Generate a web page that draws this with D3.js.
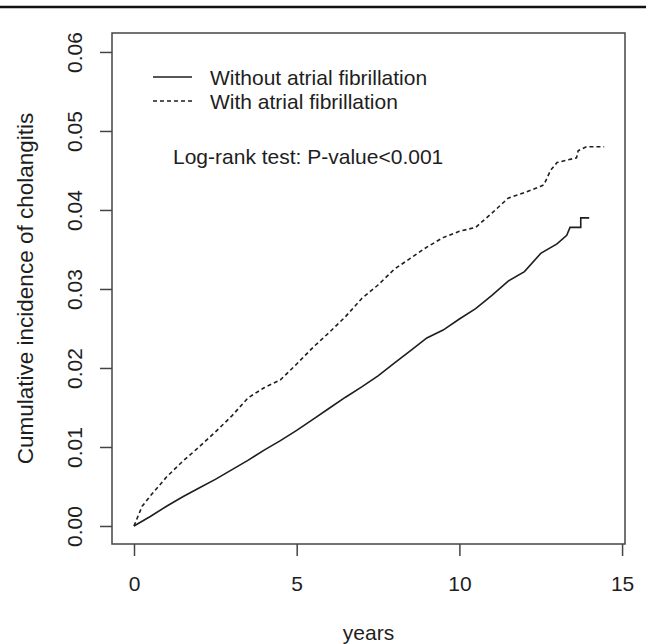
<!DOCTYPE html>
<html>
<head>
<meta charset="utf-8">
<script src="https://cdn.jsdelivr.net/npm/d3@7"></script>
<style>
  body { margin: 0; background: #fff; }
  svg { display: block; font-family: "Liberation Sans", Arial, sans-serif; }
</style>
</head>
<body>
<svg id="chart" width="646" height="644"></svg>
<script>
// ---- data (years, cumulative incidence) ----
const withoutAF_t = [0, 0.5, 1, 1.5, 2, 2.5, 3, 3.5, 4, 4.5, 5, 5.5, 6, 6.5, 7, 7.5, 8, 8.5, 9, 9.5, 10, 10.5, 11, 11.5, 12, 12.5, 13, 13.3, 13.4, 13.73, 13.73, 13.99];
const withoutAF_v = [0, 0.0012, 0.0025, 0.0037, 0.0048, 0.0059, 0.0071, 0.0083, 0.0096, 0.0108, 0.0121, 0.0135, 0.0149, 0.0163, 0.0176, 0.0190, 0.0206, 0.0222, 0.0238, 0.0248, 0.0262, 0.0275, 0.0292, 0.0310, 0.0322, 0.0345, 0.0357, 0.0368, 0.0378, 0.0378, 0.0390, 0.0390];

const withAF_t = [0, 0.25, 0.5, 1, 1.5, 2, 2.5, 3, 3.5, 4, 4.5, 5, 5.5, 6, 6.5, 7, 7.5, 8, 8.5, 9, 9.5, 10, 10.5, 11, 11.5, 12, 12.5, 12.6, 12.8, 13, 13.6, 13.65, 13.9, 14.45];
const withAF_v = [0, 0.0025, 0.0038, 0.0062, 0.0082, 0.0100, 0.0119, 0.0139, 0.0162, 0.0175, 0.0185, 0.0205, 0.0226, 0.0245, 0.0265, 0.0288, 0.0305, 0.0325, 0.0339, 0.0353, 0.0365, 0.0373, 0.0378, 0.0396, 0.0415, 0.0422, 0.0430, 0.0432, 0.0450, 0.0460, 0.0466, 0.0475, 0.0480, 0.0480];

const xTicks = [0, 5, 10, 15];
const yTicks = [0, 0.01, 0.02, 0.03, 0.04, 0.05, 0.06];
const legendLabels = ["Without atrial fibrillation", "With atrial fibrillation"];
const testLabel = "Log-rank test: P-value<0.001";

// ---- layout ----
const W = 646, H = 644;
const box = {left: 112, right: 625, top: 33, bottom: 544};
const ink = "#1e1e1e";
const fs = "21px";

const svg = d3.select("#chart");

// rule across the top of the figure
svg.append("line")
  .attr("x1", 0).attr("x2", W).attr("y1", 7).attr("y2", 7)
  .attr("stroke", "#111").attr("stroke-width", 2.5);

const x = d3.scaleLinear().domain([-0.676, 15.09]).range([box.left, box.right]);
const y = d3.scaleLinear().domain([-0.00228, 0.0624]).range([box.bottom, box.top]);

// plot frame
svg.append("rect")
  .attr("x", box.left).attr("y", box.top)
  .attr("width", box.right - box.left).attr("height", box.bottom - box.top)
  .attr("fill", "none").attr("stroke", "#444").attr("stroke-width", 1.5);

// x axis
const xAxis = svg.append("g")
  .attr("transform", `translate(0,${box.bottom})`)
  .call(d3.axisBottom(x).tickValues(xTicks).tickSize(12).tickPadding(20).tickFormat(d3.format("d")));
xAxis.select(".domain").remove();
xAxis.selectAll("line").attr("stroke", "#444").attr("stroke-width", 1.5);
xAxis.selectAll("text").attr("fill", ink).style("font-size", fs)
  .style("font-family", "Liberation Sans, Arial, sans-serif");

// y axis, labels turned like R's default
const yAxis = svg.append("g")
  .attr("transform", `translate(${box.left},0)`)
  .call(d3.axisLeft(y).tickValues(yTicks).tickSize(12).tickFormat(d3.format(".2f")));
yAxis.select(".domain").remove();
yAxis.selectAll("line").attr("stroke", "#444").attr("stroke-width", 1.5);
yAxis.selectAll("text")
  .attr("x", null).attr("dy", null)
  .attr("transform", "translate(-30,0) rotate(-90)")
  .attr("text-anchor", "middle")
  .attr("fill", ink).style("font-size", fs)
  .style("font-family", "Liberation Sans, Arial, sans-serif");

// axis titles
svg.append("text")
  .attr("x", (box.left + box.right) / 2).attr("y", 640)
  .attr("text-anchor", "middle").attr("fill", ink)
  .style("font-size", fs)
  .text("years");

svg.append("text")
  .attr("transform", `translate(33,${(box.top + box.bottom) / 2}) rotate(-90)`)
  .attr("text-anchor", "middle").attr("fill", ink)
  .style("font-size", "22.5px")
  .text("Cumulative incidence of cholangitis");

// curves
const line = d3.line().x(d => x(d[0])).y(d => y(d[1])).curve(d3.curveLinear);

svg.append("path")
  .datum(d3.zip(withoutAF_t, withoutAF_v))
  .attr("d", line)
  .attr("fill", "none").attr("stroke", ink).attr("stroke-width", 1.6);

svg.append("path")
  .datum(d3.zip(withAF_t, withAF_v))
  .attr("d", line)
  .attr("fill", "none").attr("stroke", ink).attr("stroke-width", 1.6)
  .attr("stroke-dasharray", "4,3");

// legend
const legend = svg.append("g");
legendLabels.forEach((lab, i) => {
  const ly = 77 + i * 24;
  legend.append("line")
    .attr("x1", 153).attr("x2", 192).attr("y1", ly).attr("y2", ly)
    .attr("stroke", ink).attr("stroke-width", 1.6)
    .attr("stroke-dasharray", i === 1 ? "4,3" : null);
  legend.append("text")
    .attr("x", 210).attr("y", ly + 7.5)
    .attr("fill", ink).style("font-size", fs)
    .text(lab);
});

svg.append("text")
  .attr("x", 173).attr("y", 163.5)
  .attr("fill", ink).style("font-size", fs)
  .text(testLabel);
</script>
</body>
</html>
